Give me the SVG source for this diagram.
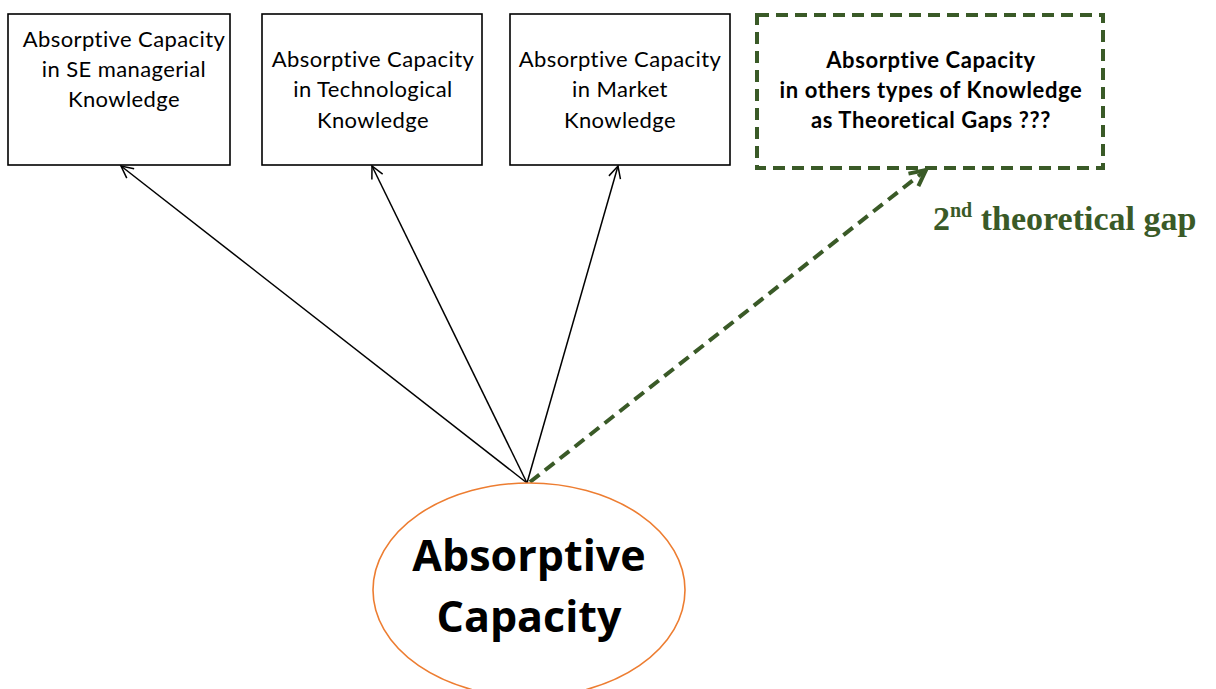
<svg xmlns="http://www.w3.org/2000/svg" width="1216" height="689" viewBox="0 0 1216 689">
<style>
.box{fill:#fff;stroke:#000;stroke-width:1.6}
.t{font-family:Lato,"Noto Sans",sans-serif;font-size:22px;letter-spacing:0.4px;font-variant-ligatures:none;fill:#000;text-anchor:middle}
.tb{font-family:Lato,"Noto Sans",sans-serif;font-size:22px;letter-spacing:0.6px;font-variant-ligatures:none;font-weight:bold;fill:#000;text-anchor:middle}
.big{font-family:"Open Sans","Noto Sans",sans-serif;font-size:43px;font-weight:bold;fill:#000;text-anchor:middle}
.con{stroke:#000;stroke-width:1.5;fill:none}
.gap{stroke:#3a5a27;stroke-width:4;stroke-dasharray:12 7;fill:none}
</style>
<defs>
<marker id="ah" markerWidth="16" markerHeight="16" refX="14" refY="8" orient="auto" markerUnits="userSpaceOnUse">
<path d="M2,2 L14,8 L2,14" fill="none" stroke="#000" stroke-width="1.5"/>
</marker>
<marker id="ahg" markerWidth="24" markerHeight="24" refX="20" refY="12" orient="auto" markerUnits="userSpaceOnUse">
<path d="M4,4 L20,12 L4,20" fill="none" stroke="#3a5a27" stroke-width="4"/>
</marker>
</defs>
<rect width="1216" height="689" fill="#fff"/>
<g id="connectors">
<line class="con" x1="527" y1="483" x2="121" y2="166" marker-end="url(#ah)"/>
<line class="con" x1="527" y1="483" x2="372" y2="166" marker-end="url(#ah)"/>
<line class="con" x1="527" y1="483" x2="618" y2="166" marker-end="url(#ah)"/>
<line class="gap" x1="530" y1="482" x2="926" y2="170" marker-end="url(#ahg)"/>
</g>
<g id="n1">
<rect class="box" x="8" y="14" width="222" height="151"/>
<text class="t"><tspan x="124" y="47">Absorptive Capacity</tspan><tspan x="124" y="77">in SE managerial</tspan><tspan x="124" y="107">Knowledge</tspan></text>
</g>
<g id="n2">
<rect class="box" x="262" y="14" width="220" height="151"/>
<text class="t"><tspan x="373" y="67">Absorptive Capacity</tspan><tspan x="373" y="97">in Technological</tspan><tspan x="373" y="128">Knowledge</tspan></text>
</g>
<g id="n3">
<rect class="box" x="510" y="14" width="220" height="151"/>
<text class="t"><tspan x="620" y="67">Absorptive Capacity</tspan><tspan x="620" y="97">in Market</tspan><tspan x="620" y="128">Knowledge</tspan></text>
</g>
<g id="n4">
<rect x="757" y="15" width="346" height="153" fill="#fff" stroke="#3a5a27" stroke-width="4" stroke-dasharray="12 7"/>
<text class="tb"><tspan x="931" y="68">Absorptive Capacity</tspan><tspan x="931" y="98">in others types of Knowledge</tspan><tspan x="931" y="128">as Theoretical Gaps ???</tspan></text>
</g>
<g id="n5">
<ellipse cx="529" cy="590" rx="156" ry="107" fill="#fff" stroke="#ed7d31" stroke-width="1.6"/>
<text class="big"><tspan x="529" y="571">Absorptive</tspan><tspan x="529" y="632">Capacity</tspan></text>
</g>
<g id="label">
<text x="933" y="230" font-family="'Liberation Serif',serif" font-size="34" font-weight="bold" fill="#3a5a27">2<tspan font-size="20" dy="-13">nd</tspan><tspan dy="13"> theoretical gap</tspan></text>
</g>
</svg>
